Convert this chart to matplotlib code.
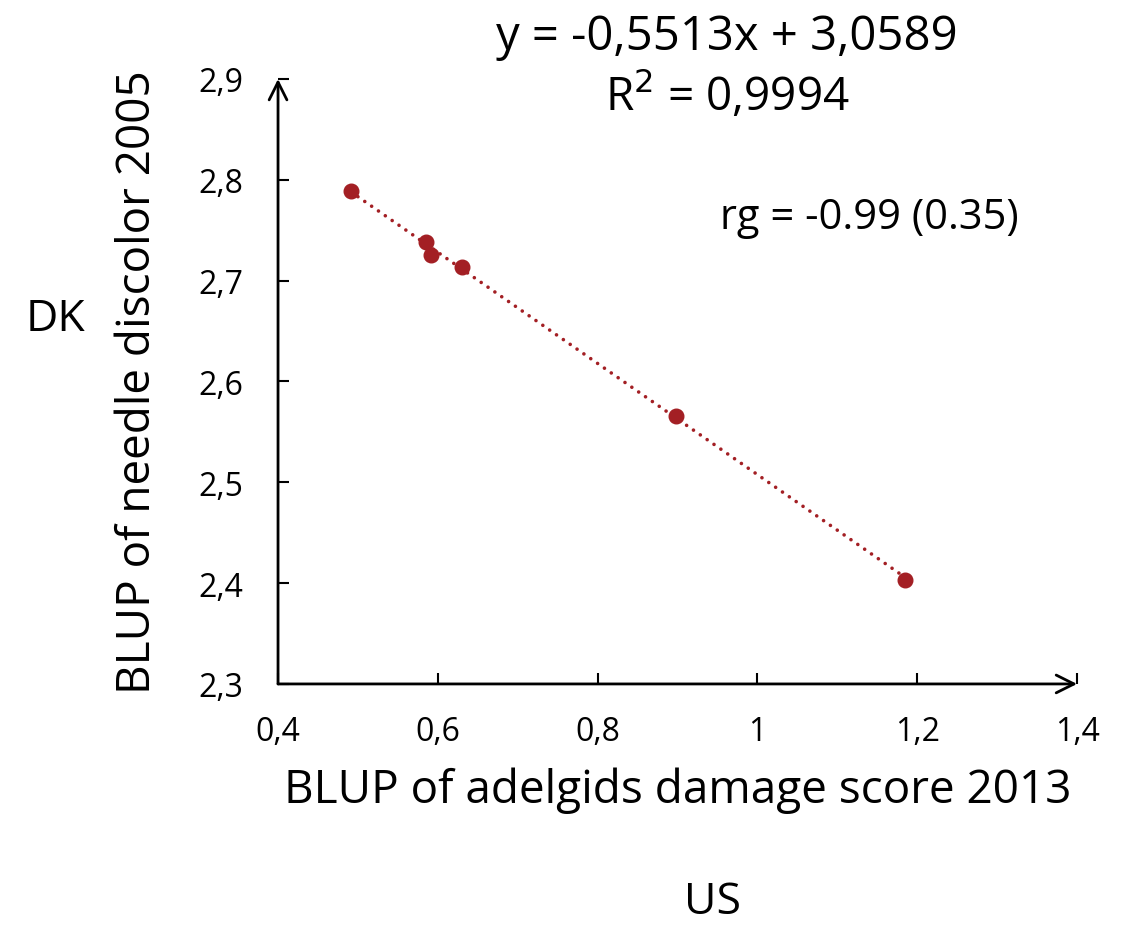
import numpy as np
import matplotlib.pyplot as plt

plt.rcParams["font.family"] = ["Open Sans", "DejaVu Sans"]

# BLUP values
adelgid_blup = [0.4914, 0.5852, 0.5911, 0.6303, 0.8981, 1.1851]
needle_blup = [2.789, 2.7384, 2.7258, 2.7136, 2.5659, 2.4034]

x_ticks = [0.4, 0.6, 0.8, 1.0, 1.2, 1.4]
x_tick_labels = ["0,4", "0,6", "0,8", "1", "1,2", "1,4"]
y_ticks = [2.3, 2.4, 2.5, 2.6, 2.7, 2.8, 2.9]
y_tick_labels = ["2,3", "2,4", "2,5", "2,6", "2,7", "2,8", "2,9"]

slope, intercept = -0.5513, 3.0589
red = "#A31F24"

fig = plt.figure(figsize=(11.27, 9.29), dpi=100)
ax = fig.add_axes([0.2467, 0.2627, 0.7090, 0.6512])

# trendline between the smallest and largest x
line_x = np.array([min(adelgid_blup), max(adelgid_blup)])
ax.plot(line_x, slope * line_x + intercept, color=red, lw=2.6,
        linestyle=(0, (0.01, 2.3)), dash_capstyle="round", zorder=2)
ax.plot(adelgid_blup, needle_blup, "o", color=red, markersize=10.5, zorder=3)

ax.set_xlim(0.4, 1.4)
ax.set_ylim(2.3, 2.9)
ax.set_xticks(x_ticks)
ax.set_xticklabels(x_tick_labels)
ax.set_yticks(y_ticks)
ax.set_yticklabels(y_tick_labels)
ax.tick_params(direction="in", length=8, width=1.5, labelsize=23)
ax.tick_params(axis="y", pad=25)
ax.tick_params(axis="x", pad=22)

for side in ["top", "right", "left", "bottom"]:
    ax.spines[side].set_visible(False)
arrow = dict(arrowstyle="->", lw=2, color="black", mutation_scale=32, shrinkA=0, shrinkB=0)
ax.annotate("", xy=(1, 0), xytext=(0, 0), xycoords="axes fraction", arrowprops=arrow)
ax.annotate("", xy=(0, 1), xytext=(0, 0), xycoords="axes fraction", arrowprops=arrow)

ax.set_xlabel("BLUP of adelgids damage score 2013", fontsize=33, labelpad=14)
ax.set_ylabel("BLUP of needle discolor 2005", fontsize=33, labelpad=27)

fig.text(727 / 1127, 1 - 37 / 929, "y = -0,5513x + 3,0589", fontsize=34, ha="center", va="center")
fig.text(727 / 1127, 1 - 95 / 929, "R$^2$ = 0,9994", fontsize=33, ha="center", va="center")
fig.text(869 / 1127, 1 - 218 / 929, "rg = -0.99 (0.35)", fontsize=30, ha="center", va="center")
fig.text(55 / 1127, 1 - 320 / 929, "DK", fontsize=32, ha="center", va="center")
fig.text(712 / 1127, 1 - 903 / 929, "US", fontsize=32, ha="center", va="center")

fig.savefig("out.png", dpi=100)
